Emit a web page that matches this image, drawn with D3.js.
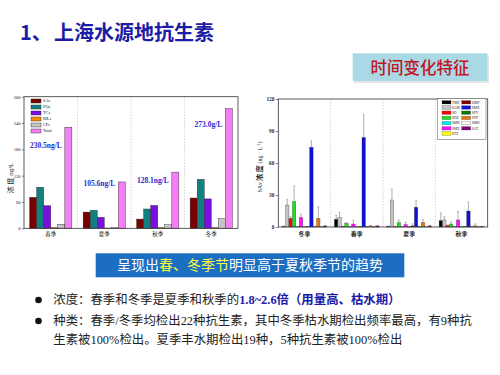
<!DOCTYPE html>
<html>
<head>
<meta charset="utf-8">
<script src="https://cdn.jsdelivr.net/npm/d3@7"></script>
<style>
body { margin: 0; background: #fff; }
svg { display: block; }
</style>
</head>
<body>
<svg id="slide" width="500" height="375"></svg>
<script>
// ---- left chart: totals by class and season ----
const seasonsA = ['春季', '夏季', '秋季', '冬季'];
const classes = ['SAs', 'PQs', 'TCs', 'MLs', 'CPs', 'Total'];
const sasA = [70.5, 37, 21, 69];
const pqsA = [93.5, 41, 44, 111.5];
const tcsA = [51.5, 25, 52, 67];
const mlsA = [2, 0.6, 2, 1.5];
const cpsA = [9, 1.5, 8, 22];
const totalA = [230.5, 105.6, 128.1, 273.0];
const totalLabels = ['230.5ng/L', '105.6ng/L', '128.1ng/L', '273.0g/L'];
const labelAt = [188, 101, 110, 236];
const ticksA = [0, 60, 120, 180, 240, 300];

// ---- right chart: sulfonamides by season (mean, error) ----
const seasonsB = ['冬季', '春季', '夏季', '秋季'];
const compounds = ['TMP', 'SAM', 'SD', 'SDZ', 'SMR', 'SMZ', 'STZ', 'OMP', 'SMX', 'SPY', 'STP', 'SMD', 'SAT'];
const winterM = [0.5, 20.6, 8.1, 23.7, 0.3, 9, 0.2, 0.3, 74.7, 0.3, 8.1, 0.2, 1.0];
const winterE = [0.3, 5.4, 1.5, 14.7, 0.2, 3, 0.1, 0.2, 6, 0.2, 11, 0.1, 0.3];
const springM = [7.2, 9, 0.5, 3.4, 0.3, 2.8, 0.2, 0.3, 84, 0.2, 1.0, 0.2, 1.0];
const springE = [3.8, 4.8, 0.3, 0.8, 0.1, 3.7, 0.1, 0.1, 21.6, 0.1, 0.4, 0.1, 0.3];
const summerM = [0.6, 25.3, 0.4, 4, 0.3, 2.2, 0.3, 1.0, 18.5, 0.3, 4.4, 0.3, 1.0];
const summerE = [0.3, 10, 0.2, 2.6, 0.2, 2.5, 0.1, 2, 6.2, 0.1, 2.8, 0.1, 0.5];
const autumnM = [5.9, 6.6, 1.5, 2.8, 0.3, 6.6, 0.2, 0.3, 15, 0.2, 1.0, 0.2, 0.5];
const autumnE = [7.5, 3.1, 0.5, 2.2, 0.1, 8.1, 0.1, 0.1, 8.4, 0.1, 2, 0.1, 0.2];
const ticksB = [0, 30, 60, 90, 120];

const classColor = d3.scaleOrdinal().domain(classes)
  .range(['#7a0000', '#138080', '#7a10e0', '#ff8a00', '#c4c4c4', '#f47ef4']);
const compColor = d3.scaleOrdinal().domain(compounds)
  .range(['#000000', '#c4c4c4', '#ff0000', '#22dd22', '#00f0f0', '#ff10ff', '#ffff00',
          '#800000', '#1010d8', '#007a00', '#e07a10', '#ffffff', '#800080']);

const svg = d3.select('#slide');
const serif = '"Liberation Serif", "Noto Sans CJK SC", serif';
const cjk = '"Noto Sans CJK SC", sans-serif';

// ---- title and tag ----
const title = svg.append('text').attr('y', 39.5)
  .attr('font-family', cjk).attr('font-weight', 'bold').attr('font-size', 20).attr('fill', '#1c1ca6');
title.append('tspan').attr('x', 20).text('1、');
title.append('tspan').attr('x', 54).text('上海水源地抗生素');

svg.append('rect').attr('x', 354).attr('y', 55).attr('width', 135).attr('height', 28).attr('fill', '#e4e4e4');
svg.append('rect').attr('x', 352.7).attr('y', 53.3).attr('width', 134.6).attr('height', 27.7).attr('fill', '#a9d9e5');
svg.append('text').attr('x', 420).attr('y', 73.5).attr('text-anchor', 'middle')
  .attr('font-family', cjk).attr('font-size', 16.5).attr('font-weight', 500).attr('fill', '#c2141e')
  .text('时间变化特征');

// ---- left chart ----
const L = { left: 24, right: 238, top: 96.7, bottom: 228.3 };
const xA = d3.scaleBand().domain(seasonsA).range([L.left, L.right]);
const xAin = d3.scaleBand().domain(classes).range([0, xA.bandwidth()]).paddingOuter(0.8);
const yA = d3.scaleLinear().domain([0, 300]).range([L.bottom, L.top]);
const seriesA = [sasA, pqsA, tcsA, mlsA, cpsA, totalA];
const rowsA = seasonsA.map((s, i) => ({ season: s, values: classes.map((c, j) => ({ c: c, v: seriesA[j][i] })) }));

const gA = svg.append('g');
seasonsA.slice(1).forEach(s => {
  gA.append('line').attr('x1', xA(s)).attr('x2', xA(s)).attr('y1', L.top).attr('y2', L.bottom)
    .attr('stroke', '#bbb').attr('stroke-width', 0.6).attr('stroke-dasharray', '1.5,1.5');
});
gA.selectAll('g.grp').data(rowsA).enter().append('g')
  .attr('transform', d => 'translate(' + xA(d.season) + ',0)')
  .selectAll('rect').data(d => d.values).enter().append('rect')
  .attr('x', d => xAin(d.c)).attr('width', xAin.bandwidth())
  .attr('y', d => yA(d.v)).attr('height', d => yA(0) - yA(d.v))
  .attr('fill', d => classColor(d.c)).attr('stroke', '#222').attr('stroke-width', 0.4);
gA.append('rect').attr('x', L.left).attr('y', L.top).attr('width', L.right - L.left).attr('height', L.bottom - L.top)
  .attr('fill', 'none').attr('stroke', '#333').attr('stroke-width', 0.8);
const axA = gA.append('g').attr('transform', 'translate(' + L.left + ',0)')
  .call(d3.axisLeft(yA).tickValues(ticksA).tickSize(2).tickPadding(1.5));
axA.select('.domain').remove();
axA.selectAll('text').attr('font-family', serif).attr('font-size', 4.5).attr('fill', '#222');
axA.selectAll('line').attr('stroke', '#333').attr('stroke-width', 0.6);
gA.selectAll('text.xl').data(seasonsA).enter().append('text')
  .attr('x', d => xA(d) + xA.bandwidth() / 2).attr('y', 236).attr('text-anchor', 'middle')
  .attr('font-family', cjk).attr('font-size', 5.5).attr('fill', '#222').text(d => d);
gA.append('text').attr('transform', 'translate(13,178) rotate(-90)').attr('text-anchor', 'middle')
  .attr('font-family', serif).attr('font-size', 7).attr('fill', '#222').text('浓 度 ng/L');
gA.selectAll('text.tot').data(seasonsA).enter().append('text')
  .attr('x', d => xA(d) + xAin('Total') - 3)
  .attr('y', (d, i) => yA(labelAt[i]) + 2.5).attr('text-anchor', 'end')
  .attr('font-family', serif).attr('font-weight', 'bold').attr('font-size', 7.5).attr('fill', '#2a2ad6')
  .text((d, i) => totalLabels[i]);
const legA = gA.selectAll('g.legA').data(classes).enter().append('g')
  .attr('transform', (d, i) => 'translate(31,' + (99 + i * 6) + ')');
legA.append('rect').attr('width', 10).attr('height', 4).attr('fill', d => classColor(d))
  .attr('stroke', '#222').attr('stroke-width', 0.4);
legA.append('text').attr('x', 12).attr('y', 3.4).attr('font-family', serif).attr('font-size', 4.3)
  .attr('fill', '#222').text(d => d);

// ---- right chart ----
const R = { left: 278.3, right: 487.7, top: 99, bottom: 227 };
const xB = d3.scaleBand().domain(seasonsB).range([R.left, R.right]);
const xBin = d3.scaleBand().domain(compounds).range([0, xB.bandwidth()]).paddingOuter(1.09);
const yB = d3.scaleLinear().domain([0, 120]).range([R.bottom, R.top]);
const meansB = [winterM, springM, summerM, autumnM];
const errsB = [winterE, springE, summerE, autumnE];
const rowsB = seasonsB.map((s, i) => ({ season: s, values: compounds.map((c, j) => ({ c: c, m: meansB[i][j], e: errsB[i][j] })) }));

const gB = svg.append('g');
seasonsB.slice(1).forEach(s => {
  gB.append('line').attr('x1', xB(s)).attr('x2', xB(s)).attr('y1', R.top).attr('y2', R.bottom)
    .attr('stroke', '#bbb').attr('stroke-width', 0.6).attr('stroke-dasharray', '1.5,1.5');
});
const grpB = gB.selectAll('g.grpB').data(rowsB).enter().append('g')
  .attr('transform', d => 'translate(' + xB(d.season) + ',0)');
const cx = d => xBin(d.c) + xBin.bandwidth() / 2;
grpB.selectAll('line.err').data(d => d.values).enter().append('line')
  .attr('x1', cx).attr('x2', cx).attr('y1', d => yB(d.m)).attr('y2', d => yB(d.m + d.e))
  .attr('stroke', '#999').attr('stroke-width', 0.8);
grpB.selectAll('line.cap').data(d => d.values).enter().append('line')
  .attr('x1', d => cx(d) - 1).attr('x2', d => cx(d) + 1).attr('y1', d => yB(d.m + d.e)).attr('y2', d => yB(d.m + d.e))
  .attr('stroke', '#999').attr('stroke-width', 0.6);
grpB.selectAll('rect').data(d => d.values).enter().append('rect')
  .attr('x', d => xBin(d.c)).attr('width', xBin.bandwidth())
  .attr('y', d => yB(d.m)).attr('height', d => yB(0) - yB(d.m))
  .attr('fill', d => compColor(d.c)).attr('stroke', '#333').attr('stroke-width', 0.3);
gB.append('rect').attr('x', R.left).attr('y', R.top).attr('width', R.right - R.left).attr('height', R.bottom - R.top)
  .attr('fill', 'none').attr('stroke', '#333').attr('stroke-width', 0.8);
const axB = gB.append('g').attr('transform', 'translate(' + R.left + ',0)')
  .call(d3.axisLeft(yB).tickValues(ticksB).tickSize(2.5).tickPadding(1.5));
axB.select('.domain').remove();
axB.selectAll('text').attr('font-family', serif).attr('font-weight', 'bold').attr('font-size', 5.2).attr('fill', '#222');
axB.selectAll('line').attr('stroke', '#333').attr('stroke-width', 0.6);
gB.selectAll('text.xl').data(seasonsB).enter().append('text')
  .attr('x', d => xB(d) + xB.bandwidth() / 2).attr('y', 235.5).attr('text-anchor', 'middle')
  .attr('font-family', cjk).attr('font-weight', 'bold').attr('font-size', 6).attr('fill', '#222').text(d => d);
const yt = gB.append('text').attr('transform', 'translate(262,167) rotate(-90)').attr('text-anchor', 'middle')
  .attr('font-family', serif).attr('font-size', 6).attr('fill', '#222');
yt.append('tspan').text('SAs ');
yt.append('tspan').attr('font-weight', 'bold').attr('font-size', 7).text('浓 度 ');
yt.append('tspan').text('(ng · L');
yt.append('tspan').attr('font-size', 4).attr('dy', -2).text('-1');
yt.append('tspan').attr('dy', 2).text(')');
gB.append('rect').attr('x', 437.7).attr('y', 98.7).attr('width', 48.3).attr('height', 41)
  .attr('fill', '#fff').attr('stroke', '#555').attr('stroke-width', 0.5);
const legB = gB.selectAll('g.legB').data(compounds).enter().append('g')
  .attr('transform', (d, i) => 'translate(' + (i < 7 ? 442 : 461.7) + ',' + (100.6 + (i < 7 ? i : i - 7) * 5.2) + ')');
legB.append('rect').attr('width', 9).attr('height', 3.4).attr('fill', d => compColor(d))
  .attr('stroke', '#444').attr('stroke-width', 0.3);
legB.append('text').attr('x', 10).attr('y', 3).attr('font-family', serif).attr('font-size', 3.6)
  .attr('fill', '#222').text(d => d);

// ---- banner ----
svg.append('rect').attr('x', 95.7).attr('y', 253.3).attr('width', 308.6).attr('height', 24).attr('fill', '#1b6ec2');
const ban = svg.append('text').attr('x', 250).attr('y', 270).attr('text-anchor', 'middle')
  .attr('font-family', cjk).attr('font-size', 14).attr('fill', '#fff');
ban.append('tspan').text('呈现出');
ban.append('tspan').attr('fill', '#ffff3a').text('春、冬季节');
ban.append('tspan').text('明显高于夏秋季节的趋势');

// ---- bullets ----
const body = svg.append('g').attr('font-family', serif).attr('font-size', 12.4).attr('fill', '#222');
[300, 321].forEach(y => {
  body.append('circle').attr('cx', 38.5).attr('cy', y).attr('r', 3.3).attr('fill', '#111');
});
const t1 = body.append('text').attr('x', 53.3).attr('y', 304.3);
t1.append('tspan').text('浓度：春季和冬季是夏季和秋季的');
t1.append('tspan').attr('font-weight', 'bold').attr('fill', '#1a1aa8').text('1.8~2.6倍（用量高、枯水期）');
body.append('text').attr('x', 53.3).attr('y', 325.3)
  .text('种类：春季/冬季均检出22种抗生素，其中冬季枯水期检出频率最高，有9种抗');
body.append('text').attr('x', 53.3).attr('y', 343.6)
  .text('生素被100%检出。夏季丰水期检出19种，5种抗生素被100%检出');
</script>
</body>
</html>
